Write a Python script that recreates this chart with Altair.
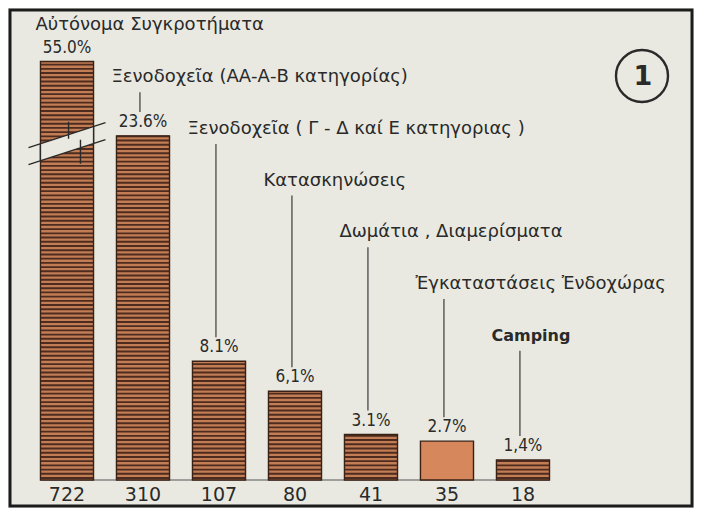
import altair as alt
import pandas as pd

# ---- data ----
categories = [
    "Αὐτόνομα Συγκροτήματα",
    "Ξενοδοχεῖα (ΑΑ-Α-Β κατηγορίας)",
    "Ξενοδοχεῖα ( Γ - Δ καί Ε κατηγοριας )",
    "Κατασκηνώσεις",
    "Δωμάτια , Διαμερίσματα",
    "Ἐγκαταστάσεις Ἐνδοχώρας",
    "Camping",
]
counts = [722, 310, 107, 80, 41, 35, 18]
percent_labels = ["55.0%", "23.6%", "8.1%", "6,1%", "3.1%", "2.7%", "1,4%"]

# ---- styling ----
BG = "#e9e9e1"
TXT = "#2a2a2a"
FRAME = "#1c1c1c"
BAR_LIGHT = "#c27d55"
BAR_SOLID = "#d6875c"
STRIPE = "#4d2c1f"
OUTLINE = "#3a2116"

BAR_CAP = 377      # top of the broken first bar (axis break)
BREAK_AT = 303     # where the break marks sit on bar 1
HALF = 0.349       # half bar width in index units

df = pd.DataFrame({
    "category": categories,
    "count": counts,
    "pct": percent_labels,
    "idx": list(range(len(categories))),
})

xs = alt.Scale(domain=[-0.75, 8.224], nice=False, zero=False)
ys = alt.Scale(domain=[-23.4, 423.4], nice=False, zero=False)


def X(f):
    return alt.X(f, type="quantitative", scale=xs, axis=None)


def Y(f):
    return alt.Y(f, type="quantitative", scale=ys, axis=None)


base = alt.Chart(df).transform_calculate(
    shown=f"min(datum.count, {BAR_CAP})",
    x0=f"datum.idx - {HALF}",
    x1=f"datum.idx + {HALF}",
    level="409.5 - 46.6 * datum.idx",
    lx="datum.idx - 0.415",
    zero="0",
    brk=f"{BREAK_AT}",
)

baseline = base.transform_aggregate(
    xmin="min(x0)", xmax="max(x1)"
).transform_calculate(zero="0").mark_rule(color="#555", strokeWidth=1.2).encode(
    x=X("xmin"), x2="xmax", y=Y("zero")
)

bars = base.mark_bar(strokeOpacity=0).encode(
    x=X("x0"), x2="x1", y=Y("shown"), y2="zero",
    color=alt.condition("datum.idx == 5", alt.value(BAR_SOLID), alt.value(BAR_LIGHT)),
)

stripes = base.transform_filter("datum.idx != 5").transform_calculate(
    stripe="sequence(1.8, datum.shown, 3.8)"
).transform_flatten(["stripe"]).mark_rule(color=STRIPE, strokeWidth=1.9).encode(
    x=X("x0"), x2="x1", y=Y("stripe:Q")
)

outline = base.mark_bar(fillOpacity=0, stroke=OUTLINE, strokeWidth=1.4).encode(
    x=X("x0"), x2="x1", y=Y("shown"), y2="zero"
)

FILL_PATH = "M-0.69,0.004L0.69,-0.444L0.69,-0.004L-0.69,0.444Z"
STROKE_PATH = ("M-1,0.105L1,-0.545M-1,0.545L1,-0.105"
               "M-0.69,0.004L-0.69,0.444M0.69,-0.444L0.69,-0.004"
               "M0.04,-0.57L0.04,-0.13M0.35,-0.1L0.35,0.52")

break_fill = base.transform_filter("datum.idx == 0").mark_point(
    shape=FILL_PATH, size=5929, filled=True, fill=BG, opacity=1, strokeOpacity=0
).encode(x=X("idx"), y=Y("brk:Q"))

break_stroke = base.transform_filter("datum.idx == 0").mark_point(
    shape=STROKE_PATH, size=5929, filled=False, stroke=TXT, strokeWidth=1.4, opacity=1
).encode(x=X("idx"), y=Y("brk:Q"))

pct = base.mark_text(
    dy=-14, baseline="middle", font="DejaVu Sans Condensed", fontSize=17, color=TXT
).encode(x=X("idx"), y=Y("shown"), text="pct:N")

labels = base.transform_filter("datum.idx < 6").mark_text(
    align="left", baseline="middle", font="DejaVu Sans", fontSize=18, color=TXT
).encode(x=X("lx"), y=Y("level"), text="category:N")

camping = base.transform_filter("datum.idx == 6").mark_text(
    align="left", baseline="middle", font="DejaVu Sans", fontSize=16,
    fontWeight="bold", color=TXT
).encode(x=X("lx"), y=Y("level"), text="category:N")

leaders = base.transform_filter("datum.idx > 0").transform_calculate(
    lead_x="datum.idx - 0.04",
    lead_top="datum.level - 13.5",
    lead_bot="datum.shown + 21.6",
).mark_rule(color=TXT, strokeWidth=1.1).encode(
    x=X("lead_x:Q"), y=Y("lead_top:Q"), y2="lead_bot:Q"
)

count_text = base.mark_text(
    dy=15, baseline="middle", font="DejaVu Sans", fontSize=19, color=TXT
).encode(x=X("idx"), y=Y("zero"), text="count:N")

circle = base.transform_filter("datum.idx == 0").mark_point(
    shape="circle", size=2704, filled=False, stroke=TXT, strokeWidth=2.4, opacity=1
).encode(x=alt.value(632), y=alt.value(66))

one = base.transform_filter("datum.idx == 0").mark_text(
    text="1", font="DejaVu Sans", fontSize=27, fontWeight="bold", color=TXT,
    baseline="middle"
).encode(x=alt.value(633), y=alt.value(67))

chart = alt.layer(
    baseline, bars, stripes, outline, break_fill, break_stroke,
    pct, labels, camping, leaders, count_text, circle, one
).properties(
    width=682, height=496, padding=2
).configure(background=BG).configure_view(
    stroke=FRAME, strokeWidth=3, fill=BG
)

chart.save("out.html", embed_options={"renderer": "svg", "actions": False})
